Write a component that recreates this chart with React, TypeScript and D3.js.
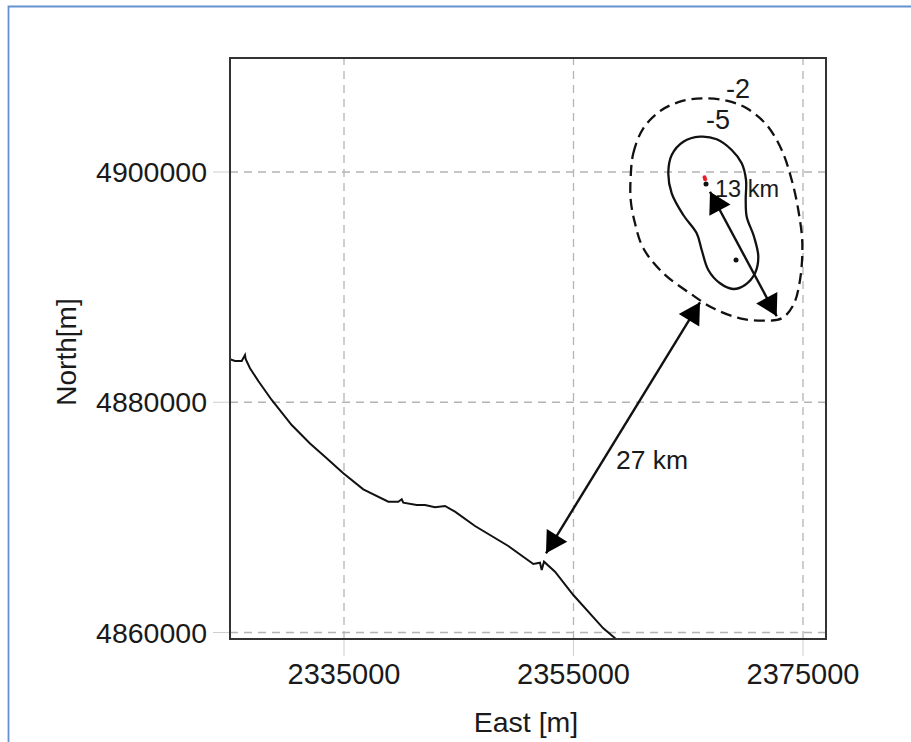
import { useEffect, useRef } from "react";
import * as d3 from "d3";

type Pt = [number, number];

const xTicks = [2335000, 2355000, 2375000];
const yTicks = [4860000, 4880000, 4900000];

// coastline, [east, north] in metres
const coast: Pt[] = [
  [2325065, 4883731], [2325501, 4883583], [2326085, 4883583], [2326373, 4884105],
  [2326434, 4883731], [2326808, 4882950], [2327532, 4881846], [2328699, 4880196],
  [2330442, 4878024], [2332037, 4876418], [2333344, 4875271], [2334939, 4873829],
  [2336682, 4872439], [2338861, 4871362], [2339732, 4871362], [2340028, 4871571],
  [2340168, 4871275], [2341336, 4871076], [2342059, 4871076], [2342930, 4870876],
  [2343802, 4870989], [2344673, 4870494], [2346416, 4869252], [2349318, 4867514],
  [2351497, 4865951], [2352081, 4866064], [2352229, 4865430], [2352429, 4866151],
  [2353388, 4865282], [2354983, 4863258], [2357597, 4860365], [2358704, 4859436],
];

// -5 contour
const contourInner: Pt[] = [
  [2363262, 4899887], [2363558, 4901477], [2364569, 4902632], [2366024, 4903066],
  [2367479, 4902840], [2368787, 4901911], [2369658, 4900756], [2370033, 4899305],
  [2370007, 4897568], [2370094, 4896117], [2370730, 4894380], [2371105, 4892643],
  [2370817, 4891201], [2369946, 4890185], [2368926, 4889837], [2367767, 4890333],
  [2366747, 4891488], [2366172, 4893225], [2365736, 4894675], [2364569, 4896265],
  [2363558, 4898150],
];

// -2 contour
const contourOuter: Pt[] = [
  [2359985, 4899592], [2360211, 4901624], [2361083, 4903796], [2362686, 4905385],
  [2364569, 4906193], [2366312, 4906402], [2368351, 4906193], [2370094, 4905533],
  [2371837, 4904082], [2373144, 4901911], [2374015, 4899305], [2374590, 4896699],
  [2374939, 4893807], [2374739, 4890619], [2374155, 4888448], [2373144, 4887292],
  [2371540, 4887084], [2369510, 4887292], [2367183, 4888161], [2365153, 4889464],
  [2362826, 4891201], [2361083, 4893373], [2360359, 4895544], [2359985, 4897568],
];

const blackDots: Pt[] = [[2366547, 4898958], [2369161, 4892356]];
const redDots: Pt[] = [[2366420, 4899540], [2366470, 4899370]];

const arrows: [Pt, Pt][] = [
  [[2366895, 4898289], [2372708, 4887466]],
  [[2352603, 4866880], [2366024, 4888682]],
];

const labels: { text: string; at: Pt; size: number }[] = [
  { text: "-2", at: [2368290, 4906428], size: 27 },
  { text: "-5", at: [2366547, 4903735], size: 27 },
  { text: "13 km", at: [2367331, 4897829], size: 23.5 },
  { text: "27 km", at: [2358704, 4874200], size: 26.5 },
];

const W = 911;
const H = 742;
const FONT = "'Liberation Sans', Arial, sans-serif";

const App = () => {
  const ref = useRef<SVGSVGElement>(null);

  useEffect(() => {
    const svg = d3.select(ref.current);
    svg.selectAll("*").remove();

    const left = 230, right = 826, top = 58, bottom = 639;
    const x = d3.scaleLinear().domain([2325065, 2377004]).range([left, right]);
    const y = d3.scaleLinear().domain([4859436, 4909902]).range([bottom, top]);

    // slide border
    svg.append("path")
      .attr("d", `M8.5,${H} V6.5 H${W}`)
      .attr("fill", "none")
      .attr("stroke", "#6492d0")
      .attr("stroke-width", 1.8);

    // grid
    const grid = svg.append("g")
      .attr("stroke", "#b4b4b4")
      .attr("stroke-width", 1.3)
      .attr("stroke-dasharray", "8 6");
    xTicks.forEach((t) => {
      grid.append("line").attr("x1", x(t)).attr("x2", x(t)).attr("y1", bottom).attr("y2", top);
    });
    yTicks.forEach((t) => {
      grid.append("line").attr("y1", y(t)).attr("y2", y(t)).attr("x1", left).attr("x2", right);
    });

    // tick marks are faint, outside the frame
    const tickG = svg.append("g").attr("stroke", "#cfcfcf").attr("stroke-width", 1);
    xTicks.forEach((t) => {
      tickG.append("line").attr("x1", x(t)).attr("x2", x(t)).attr("y1", bottom).attr("y2", bottom + 17);
    });
    yTicks.forEach((t) => {
      tickG.append("line").attr("y1", y(t)).attr("y2", y(t)).attr("x1", left - 17).attr("x2", left);
    });

    const text = svg.append("g").attr("font-family", FONT).attr("fill", "#1a1a1a");
    xTicks.forEach((t) => {
      text.append("text").attr("x", x(t)).attr("y", 684)
        .attr("text-anchor", "middle").attr("font-size", 29).text(t);
    });
    yTicks.forEach((t) => {
      text.append("text").attr("x", 207).attr("y", y(t) + 10)
        .attr("text-anchor", "end").attr("font-size", 28.5).text(t);
    });
    text.append("text").attr("x", 526).attr("y", 732)
      .attr("text-anchor", "middle").attr("font-size", 28.5).text("East [m]");
    text.append("text")
      .attr("transform", "translate(76,352) rotate(-90)")
      .attr("text-anchor", "middle").attr("font-size", 28).text("North[m]");

    const line = d3.line<Pt>().x((d) => x(d[0])).y((d) => y(d[1]));
    const closed = d3.line<Pt>().x((d) => x(d[0])).y((d) => y(d[1])).curve(d3.curveCatmullRomClosed.alpha(0.5));

    svg.append("path").attr("d", line(coast))
      .attr("fill", "none").attr("stroke", "#111").attr("stroke-width", 2);
    svg.append("path").attr("d", closed(contourInner))
      .attr("fill", "none").attr("stroke", "#111").attr("stroke-width", 2.3);
    svg.append("path").attr("d", closed(contourOuter))
      .attr("fill", "none").attr("stroke", "#111").attr("stroke-width", 2.3)
      .attr("stroke-dasharray", "11 6");

    svg.selectAll("circle.black").data(blackDots).join("circle")
      .attr("class", "black").attr("cx", (d) => x(d[0])).attr("cy", (d) => y(d[1]))
      .attr("r", 2.5).attr("fill", "#111");
    svg.selectAll("circle.red").data(redDots).join("circle")
      .attr("class", "red").attr("cx", (d) => x(d[0])).attr("cy", (d) => y(d[1]))
      .attr("r", 2).attr("fill", "#e8202a");

    // double headed arrows, heads sized in pixels
    const headLen = 21, headHalf = 12;
    arrows.forEach(([a, b]) => {
      const p: Pt = [x(a[0]), y(a[1])];
      const q: Pt = [x(b[0]), y(b[1])];
      const len = Math.hypot(q[0] - p[0], q[1] - p[1]);
      const ux = (q[0] - p[0]) / len, uy = (q[1] - p[1]) / len;
      svg.append("line")
        .attr("x1", p[0]).attr("y1", p[1]).attr("x2", q[0]).attr("y2", q[1])
        .attr("stroke", "#111").attr("stroke-width", 2.4);
      const head = (tip: Pt, dx: number, dy: number) => {
        const bx = tip[0] + dx * headLen, by = tip[1] + dy * headLen;
        return [
          tip,
          [bx - dy * headHalf, by + dx * headHalf],
          [bx + dy * headHalf, by - dx * headHalf],
        ].join(" ");
      };
      svg.append("polygon").attr("points", head(p, ux, uy)).attr("fill", "#000");
      svg.append("polygon").attr("points", head(q, -ux, -uy)).attr("fill", "#000");
    });

    labels.forEach((l) => {
      text.append("text").attr("x", x(l.at[0])).attr("y", y(l.at[1]))
        .attr("font-size", l.size).text(l.text);
    });

    // frame
    svg.append("rect")
      .attr("x", left).attr("y", top).attr("width", right - left).attr("height", bottom - top)
      .attr("fill", "none").attr("stroke", "#333").attr("stroke-width", 2);
  }, []);

  return (
    <svg
      ref={ref}
      width={W}
      height={H}
      style={{ position: "absolute", left: 0, top: 0, background: "#fff" }}
    />
  );
};

export default App;
